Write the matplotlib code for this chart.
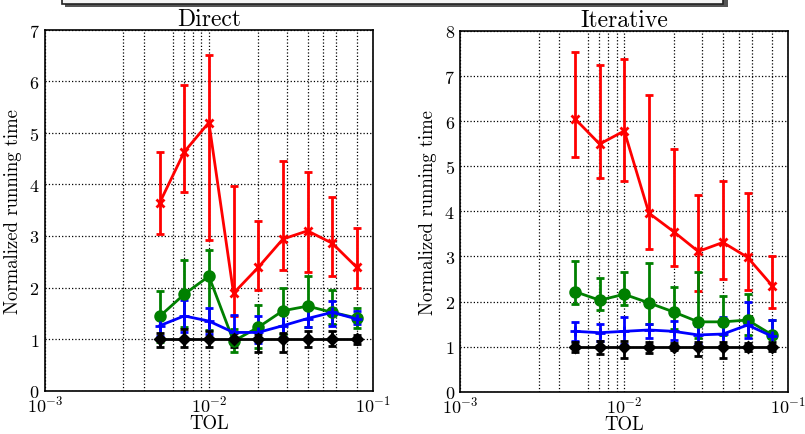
import numpy as np
import matplotlib.pyplot as plt
from matplotlib.patches import Rectangle
from matplotlib.ticker import FixedLocator, LogLocator, LogFormatterMathtext, NullFormatter

plt.rcParams['font.family'] = 'cmr10'
plt.rcParams['mathtext.fontset'] = 'cm'
plt.rcParams['axes.formatter.use_mathtext'] = True

tol = [0.005, 0.00707, 0.01, 0.01414, 0.02, 0.02828, 0.04, 0.05657, 0.08]

# Direct solver: mean and error bar ends (low, high)
dir_red = [3.64, 4.63, 5.20, 1.89, 2.39, 2.94, 3.10, 2.86, 2.39]
dir_red_lo = [3.04, 3.86, 2.93, 1.45, 1.96, 2.34, 2.31, 2.23, 2.00]
dir_red_hi = [4.62, 5.93, 6.51, 3.96, 3.30, 4.45, 4.25, 3.75, 3.15]
dir_green = [1.44, 1.87, 2.22, 0.96, 1.23, 1.55, 1.64, 1.52, 1.41]
dir_green_lo = [0.95, 1.23, 1.17, 0.76, 0.82, 1.10, 1.23, 1.29, 1.22]
dir_green_hi = [1.94, 2.53, 2.73, 1.20, 1.67, 1.99, 2.22, 1.96, 1.60]
dir_blue = [1.26, 1.45, 1.35, 1.13, 1.13, 1.26, 1.40, 1.52, 1.39]
dir_blue_lo = [1.07, 1.14, 1.10, 0.90, 0.92, 1.05, 1.23, 1.26, 1.30]
dir_blue_hi = [1.45, 1.75, 1.61, 1.47, 1.45, 1.50, 1.62, 1.73, 1.55]
dir_black = [1.0, 1.0, 1.0, 1.0, 1.0, 1.0, 1.0, 1.0, 1.0]
dir_black_lo = [0.85, 0.85, 0.85, 0.85, 0.76, 0.76, 0.85, 0.87, 0.90]
dir_black_hi = [1.12, 1.20, 1.15, 1.12, 1.10, 1.12, 1.15, 1.15, 1.08]

# Iterative solver
it_red = [6.05, 5.49, 5.78, 3.96, 3.55, 3.11, 3.31, 2.98, 2.35]
it_red_lo = [5.20, 4.74, 4.66, 3.16, 2.79, 2.24, 2.50, 2.25, 1.85]
it_red_hi = [7.52, 7.25, 7.38, 6.57, 5.37, 4.35, 4.68, 4.41, 3.00]
it_green = [2.22, 2.03, 2.16, 1.97, 1.77, 1.55, 1.55, 1.59, 1.26]
it_green_lo = [1.94, 1.81, 1.93, 1.50, 1.39, 1.20, 1.26, 1.25, 1.00]
it_green_hi = [2.89, 2.52, 2.65, 2.85, 2.33, 2.65, 2.13, 2.17, 1.59]
it_blue = [1.34, 1.31, 1.34, 1.37, 1.34, 1.26, 1.28, 1.48, 1.23]
it_blue_lo = [1.13, 1.12, 1.05, 1.20, 1.15, 1.05, 1.00, 1.20, 1.00]
it_blue_hi = [1.54, 1.50, 1.65, 1.50, 1.57, 1.45, 1.65, 1.98, 1.60]
it_black = [1.0, 1.0, 1.0, 1.0, 1.0, 1.0, 1.0, 1.0, 1.0]
it_black_lo = [0.89, 0.84, 0.76, 0.86, 0.92, 0.80, 0.76, 0.90, 0.90]
it_black_hi = [1.10, 1.12, 1.12, 1.10, 1.08, 1.10, 1.10, 1.08, 1.10]

minor_grid = [0.003, 0.004, 0.006, 0.007, 0.008, 0.009,
              0.02, 0.03, 0.04, 0.05, 0.06, 0.08]

fig = plt.figure(figsize=(8.05, 4.35), dpi=100)

# cut-off legend frame along the top edge
fig.patches.append(Rectangle((0.081, 0.981), 0.823, 0.06, transform=fig.transFigure,
                             facecolor='#555555', edgecolor='none', zorder=0))
fig.patches.append(Rectangle((0.077, 0.989), 0.821, 0.06, transform=fig.transFigure,
                             facecolor='#f4f4f4', edgecolor='#222222', lw=1.2, zorder=1))


def draw(ax, series, ymax, title):
    for y, lo, hi, col, mk, ms in series:
        y = np.array(y)
        err = [y - np.array(lo), np.array(hi) - y]
        ax.errorbar(tol, y, yerr=err, color=col, marker=mk, ms=ms, mew=2,
                    lw=2, elinewidth=2, capsize=3, capthick=2)
    ax.set_xscale('log')
    ax.set_xlim(1e-3, 1e-1)
    ax.set_ylim(0, ymax)
    ax.set_yticks(range(ymax + 1))
    ax.xaxis.set_major_locator(LogLocator(base=10))
    ax.xaxis.set_major_formatter(LogFormatterMathtext())
    ax.xaxis.set_minor_locator(FixedLocator(minor_grid))
    ax.xaxis.set_minor_formatter(NullFormatter())
    ax.grid(True, which='both', color='black', ls=':', lw=0.9)
    ax.tick_params(which='both', direction='in', length=0, labelsize=13, pad=4)
    ax.tick_params(axis='x', pad=2)
    ax.set_title(title, fontsize=17, pad=2)
    ax.set_xlabel('TOL', fontsize=13.5, labelpad=0)
    ax.set_ylabel('Normalized running time', fontsize=13.5, labelpad=5)
    for s in ax.spines.values():
        s.set_linewidth(1.2)


ax1 = fig.add_axes([0.056, 0.0995, 0.407, 0.830])
draw(ax1, [
    (dir_red, dir_red_lo, dir_red_hi, 'red', 'x', 6),
    (dir_green, dir_green_lo, dir_green_hi, 'green', 'o', 7),
    (dir_blue, dir_blue_lo, dir_blue_hi, 'blue', '+', 7),
    (dir_black, dir_black_lo, dir_black_hi, 'black', 'D', 5),
], 7, 'Direct')

ax2 = fig.add_axes([0.572, 0.097, 0.407, 0.830])
draw(ax2, [
    (it_red, it_red_lo, it_red_hi, 'red', 'x', 6),
    (it_green, it_green_lo, it_green_hi, 'green', 'o', 7),
    (it_blue, it_blue_lo, it_blue_hi, 'blue', '+', 7),
    (it_black, it_black_lo, it_black_hi, 'black', 'D', 5),
], 8, 'Iterative')

fig.savefig('out.png', dpi=100)
